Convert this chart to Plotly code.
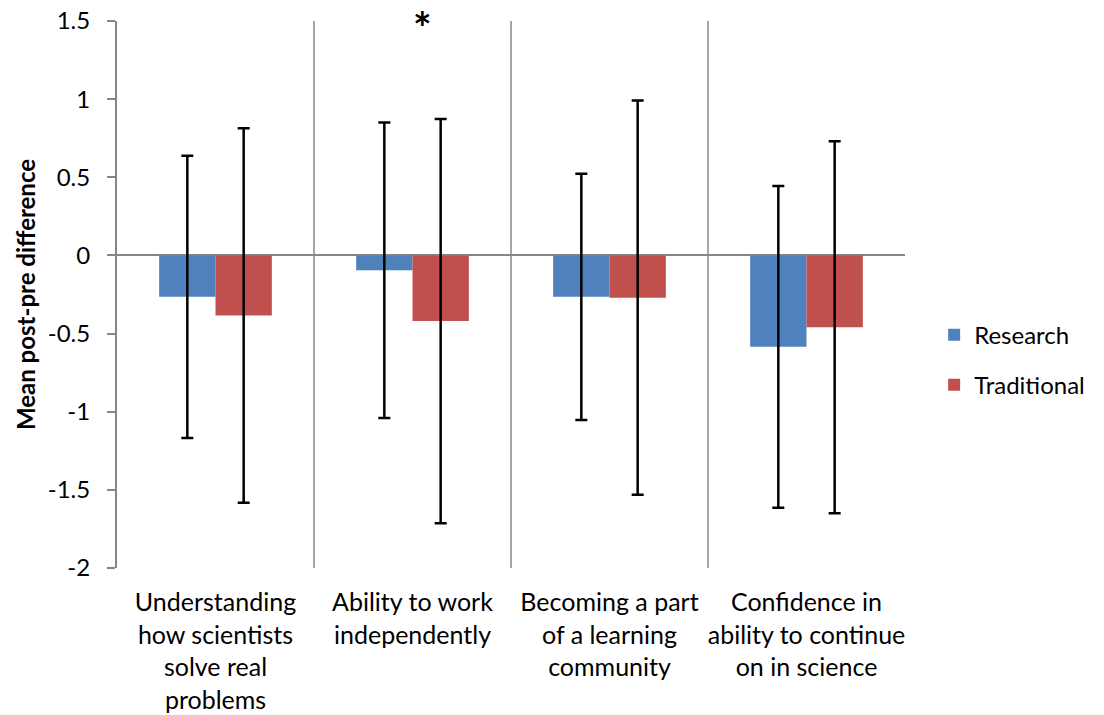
import plotly.graph_objects as go

# Survey items (x categories)
categories = [
    "Understanding<br>how scientists<br>solve real<br>problems",
    "Ability to work<br>independently",
    "Becoming a part<br>of a learning<br>community",
    "Confidence in<br>ability to continue<br>on in science",
]

# Mean post-pre differences and error half-widths
research_mean = [-0.265, -0.095, -0.265, -0.585]
research_err = [0.903, 0.946, 0.788, 1.03]
traditional_mean = [-0.385, -0.42, -0.27, -0.459]
traditional_err = [1.198, 1.293, 1.262, 1.19]

# Y axis ticks
y_tick_vals = [1.5, 1, 0.5, 0, -0.5, -1, -1.5, -2]
y_tick_text = ["1.5", "1", "0.5", "0", "-0.5", "-1", "-1.5", "-2"]

FONT = "Lato"
AXIS_GRAY = "#868686"
GRID_GRAY = "#A6A6A6"

fig = go.Figure()
fig.add_trace(go.Bar(
    name="Research", x=categories, y=research_mean,
    marker=dict(color="#4F81BD", line=dict(width=0)),
    error_y=dict(type="data", array=research_err, visible=True,
                 color="black", thickness=2.5, width=6),
    legendgroup="r",
))
fig.add_trace(go.Bar(
    name="Traditional", x=categories, y=traditional_mean,
    marker=dict(color="#C0504D", line=dict(width=0)),
    error_y=dict(type="data", array=traditional_err, visible=True,
                 color="black", thickness=2.5, width=6),
    legendgroup="t",
))

# Significance marker over the second item
fig.add_annotation(
    x=categories[1], y=1.5, xref="x", yref="y",
    text="<b>*</b>", showarrow=False, xshift=10, yshift=-6,
    font=dict(family=FONT, size=44, color="black"),
)

fig.update_layout(
    width=1104, height=715,
    margin=dict(l=117, r=199, t=21, b=147),
    paper_bgcolor="white", plot_bgcolor="white",
    barmode="group", bargap=0.428, bargroupgap=0,
    font=dict(family=FONT, size=24, color="black"),
    legend=dict(
        x=1.037, xanchor="left", y=0.467, yanchor="top",
        font=dict(family=FONT, size=24, color="black"),
        traceorder="grouped", tracegroupgap=16,
        bgcolor="rgba(0,0,0,0)",
    ),
    xaxis=dict(
        type="category", tickson="boundaries",
        showgrid=True, gridcolor=GRID_GRAY, gridwidth=2,
        ticks="", showline=False, zeroline=False,
        tickangle=0, automargin=False,
        tickfont=dict(family=FONT, size=25, color="black"),
        ticklabelstandoff=17,
    ),
    yaxis=dict(
        range=[-2, 1.5], tickvals=y_tick_vals, ticktext=y_tick_text,
        showgrid=False, zeroline=True, zerolinecolor=AXIS_GRAY, zerolinewidth=2,
        showline=True, linecolor=AXIS_GRAY, linewidth=2,
        ticks="outside", ticklen=8, tickcolor=AXIS_GRAY, tickwidth=2,
        automargin=False,
        tickfont=dict(family=FONT, size=24, color="black"),
        ticklabelstandoff=12,
        title=dict(text="<b>Mean post-pre difference</b>",
                   font=dict(family=FONT, size=24, color="black"),
                   standoff=5),
    ),
)

fig.write_html("out.html")
